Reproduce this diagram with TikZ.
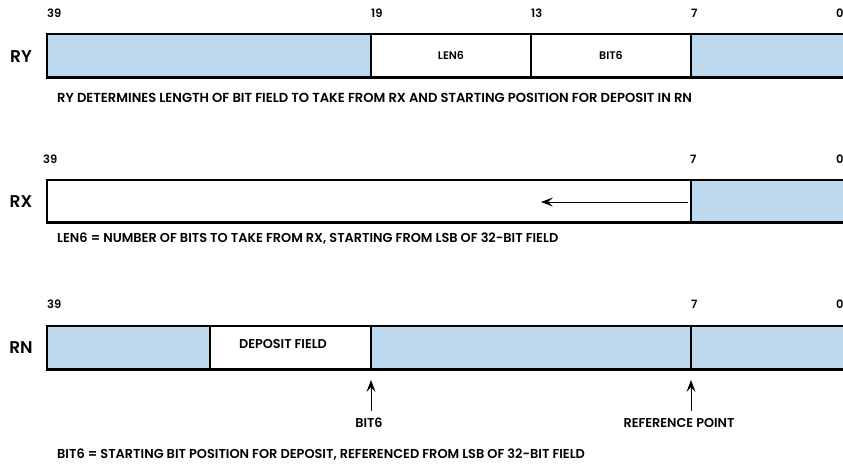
\documentclass[tikz,border=0pt]{standalone}
\usepackage{fontspec}
\setmainfont{Poppins}[UprightFont={* SemiBold}]
\usetikzlibrary{arrows.meta}

\definecolor{regblue}{RGB}{190,216,238}

\begin{document}
\begin{tikzpicture}[x=1pt, y=-1pt,
  every node/.style={inner sep=0pt, font=\fontsize{11}{13}\selectfont},
  reg/.style={font=\fontsize{17}{19}\selectfont},
  bitno/.style={anchor=south west, font=\fontsize{11.5}{13}\selectfont},
  note/.style={anchor=west, font=\fontsize{#1}{14}\selectfont},
  note/.default=13.1,
  field/.style={font=\fontsize{11}{13}\selectfont},
  pointer/.style={font=\fontsize{12.8}{14}\selectfont},
  frame/.style={line width=2pt},
  bottomline/.style={line width=3pt},
  divider/.style={line width=1.2pt},
  arr/.style={-{Stealth[length=12pt, width=9pt, inset=5pt]}, line width=0.9pt},
]
\useasboundingbox (0,0) rectangle (843,464);
\clip (0,0) rectangle (843,464);

% RY register
\fill[regblue] (47,34) rectangle (371,77);
\fill[regblue] (691,34) rectangle (870,77);
\draw[frame] (870,34) -- (47,34) -- (47,77);
\draw[bottomline] (46,77.5) -- (870,77.5);
\foreach \x in {371,531,691}
  \draw[divider] (\x,34) -- (\x,77);

\node[reg] (ry) at (21,57) {RY};
\node[bitno] (ry39) at (47,18) {39};
\node[bitno] (ry19) at (371,18) {19};
\node[bitno] (ry13) at (531,18) {13};
\node[bitno] (ry7) at (691,18) {7};
\node[bitno] (ry0) at (836,18) {0};
\node[field] (len6) at (451,55) {LEN6};
\node[field] (bit6) at (611,55) {BIT6};
\node[note] (rynote) at (57,98)
  {RY DETERMINES LENGTH OF BIT FIELD TO TAKE FROM RX AND STARTING POSITION FOR DEPOSIT IN RN};

% RX register
\fill[regblue] (691,180) rectangle (870,222);
\draw[frame] (870,180) -- (47,180) -- (47,222);
\draw[bottomline] (46,222.5) -- (870,222.5);
\draw[divider] (691,180) -- (691,222);

\node[reg] (rx) at (21,202) {RX};
\node[bitno] (rx39) at (43,164) {39};
\node[bitno] (rx7) at (690,164) {7};
\node[bitno] (rx0) at (836,164) {0};
\coordinate (rxfrom) at (688,202);
\coordinate (rxto) at (541,202);
\draw[arr] (rxfrom) -- (rxto);
\node[note=12.9] (rxnote) at (57,239)
  {LEN6 = NUMBER OF BITS TO TAKE FROM RX, STARTING FROM LSB OF 32-BIT FIELD};

% RN register
\fill[regblue] (47,326) rectangle (210,369);
\fill[regblue] (371,326) rectangle (870,369);
\draw[frame] (870,326) -- (47,326) -- (47,369);
\draw[bottomline] (46,369.5) -- (870,369.5);
\foreach \x in {210,371,691}
  \draw[divider] (\x,326) -- (\x,369);

\node[reg] (rn) at (21,348) {RN};
\node[bitno] (rn39) at (47,309) {39};
\node[bitno] (rn7) at (691,309) {7};
\node[bitno] (rn0) at (836,309) {0};
\node[pointer] (deposit) at (283,344) {DEPOSIT FIELD};

\coordinate (rnbit) at (371,380);
\coordinate (rnref) at (691,380);
\node[pointer] (bitlbl) at (369,423) {BIT6};
\node[pointer] (reflbl) at (679,423) {REFERENCE POINT};
\draw[arr] ([yshift=7pt]bitlbl.north -| rnbit) -- (rnbit);
\draw[arr] ([yshift=7pt]reflbl.north -| rnref) -- (rnref);

\node[note=12.9] (rnnote) at (57,455)
  {BIT6 = STARTING BIT POSITION FOR DEPOSIT, REFERENCED FROM LSB OF 32-BIT FIELD};
\end{tikzpicture}
\end{document}
